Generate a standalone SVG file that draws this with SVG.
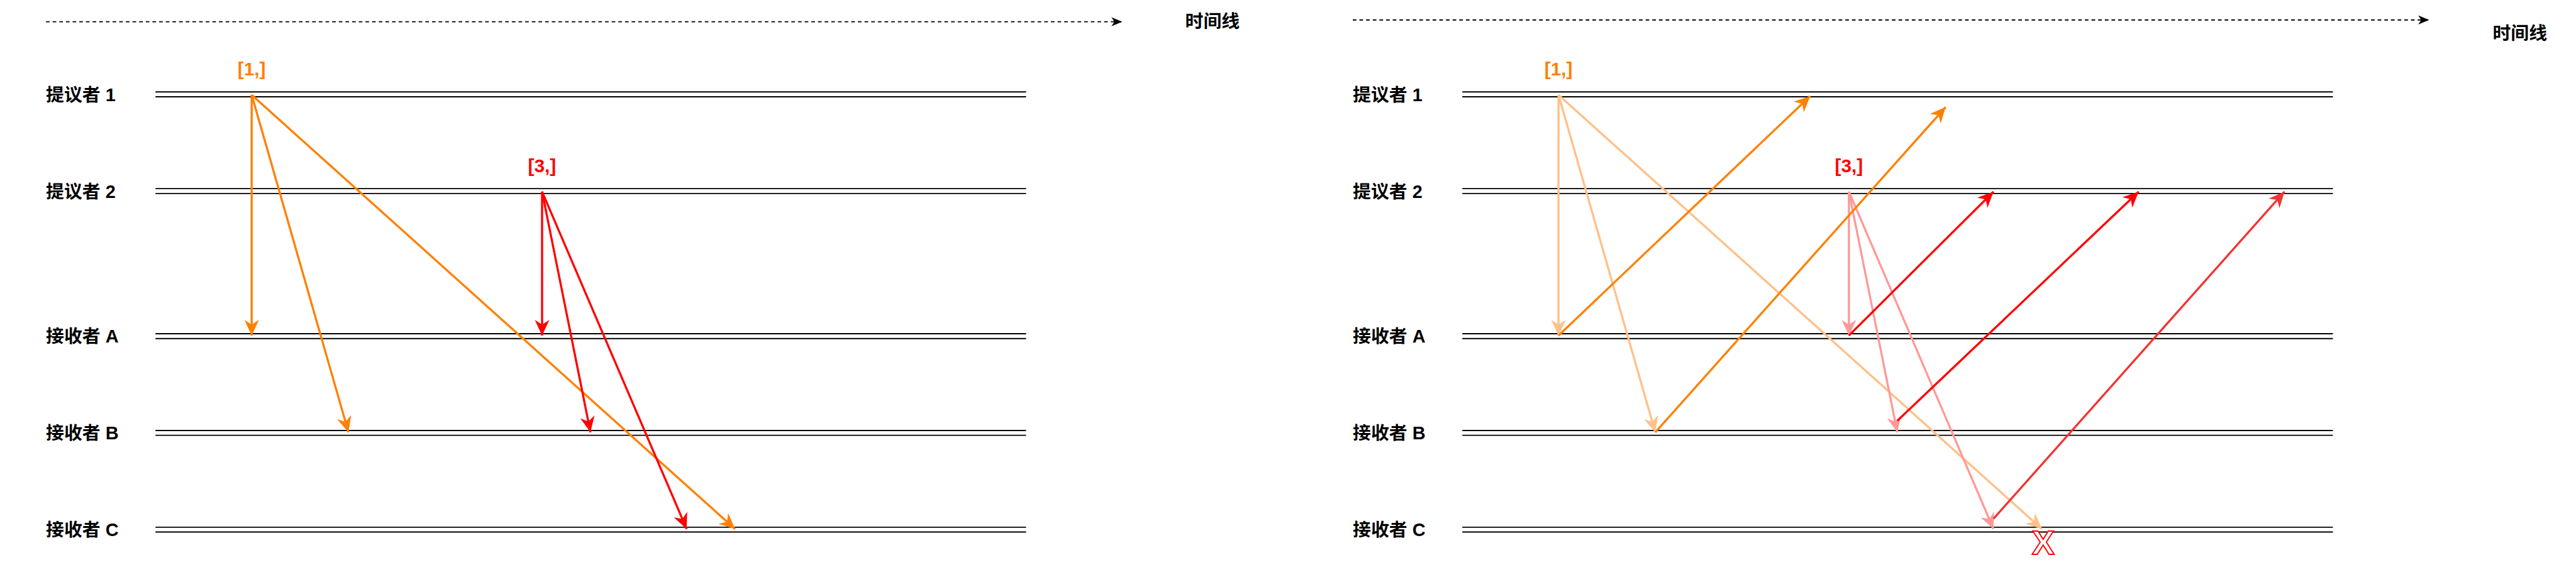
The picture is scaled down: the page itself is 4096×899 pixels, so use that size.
<svg xmlns="http://www.w3.org/2000/svg" width="4096" height="899" viewBox="0 0 4096 899">
<style>
.lane{stroke:#000;stroke-width:2;fill:none}
.lbl{font-family:"Liberation Sans","Noto Sans CJK SC",sans-serif;font-weight:bold;font-size:30px;fill:#000}
.tag{font-family:"Liberation Sans","Noto Sans CJK SC",sans-serif;font-weight:bold;font-size:31px;text-anchor:middle}
.tl{stroke:#000;stroke-width:2;stroke-dasharray:6 5;fill:none}
.o{stroke:#FF8000;stroke-width:3.5;fill:none;marker-end:url(#mo)}
.r{stroke:#FF0000;stroke-width:3.5;fill:none;marker-end:url(#mr)}
.lo{stroke:#FFC08A;stroke-width:3.5;fill:none;marker-end:url(#mlo)}
.lr{stroke:#FF9999;stroke-width:3.5;fill:none;marker-end:url(#mlr)}
.r2{stroke:#F33333;stroke-width:3.5;fill:none;marker-end:url(#mr2)}
</style>
<defs>
<marker id="mk" viewBox="-20 -9 22 18" refX="0" refY="0" markerWidth="22" markerHeight="18" markerUnits="userSpaceOnUse" orient="auto"><path d="M0,0 L-18,-7.5 L-13,0 L-18,7.5 Z" fill="#000"/></marker>
<marker id="mo" viewBox="-28 -14 30 28" refX="0" refY="0" markerWidth="30" markerHeight="28" markerUnits="userSpaceOnUse" orient="auto"><path d="M0,0 L-26,-12 L-18,0 L-26,12 Z" fill="#FF8000"/></marker>
<marker id="mr" viewBox="-28 -14 30 28" refX="0" refY="0" markerWidth="30" markerHeight="28" markerUnits="userSpaceOnUse" orient="auto"><path d="M0,0 L-26,-12 L-18,0 L-26,12 Z" fill="#FF0000"/></marker>
<marker id="mlo" viewBox="-28 -14 30 28" refX="0" refY="0" markerWidth="30" markerHeight="28" markerUnits="userSpaceOnUse" orient="auto"><path d="M0,0 L-26,-12 L-18,0 L-26,12 Z" fill="#FFC08A"/></marker>
<marker id="mlr" viewBox="-28 -14 30 28" refX="0" refY="0" markerWidth="30" markerHeight="28" markerUnits="userSpaceOnUse" orient="auto"><path d="M0,0 L-26,-12 L-18,0 L-26,12 Z" fill="#FF9999"/></marker>
<marker id="mr2" viewBox="-28 -14 30 28" refX="0" refY="0" markerWidth="30" markerHeight="28" markerUnits="userSpaceOnUse" orient="auto"><path d="M0,0 L-26,-12 L-18,0 L-26,12 Z" fill="#F33333"/></marker>
</defs>
<rect width="4096" height="899" fill="#fff"/>
<g transform="scale(0.962)">
<g id="timeline-left">
<line class="tl" x1="76" y1="36" x2="1855" y2="36" marker-end="url(#mk)"/>
<text class="lbl" x="1959" y="46">时间线</text>
</g>
<g id="lanes-left">
<g id="L-p1"><text class="lbl" x="76" y="167">提议者 1</text><path class="lane" d="M257,152 H1696 M257,160 H1696"/></g>
<g id="L-p2"><text class="lbl" x="76" y="327">提议者 2</text><path class="lane" d="M257,312 H1696 M257,320 H1696"/></g>
<g id="L-a"><text class="lbl" x="76" y="567">接收者 A</text><path class="lane" d="M257,552 H1696 M257,560 H1696"/></g>
<g id="L-b"><text class="lbl" x="76" y="727">接收者 B</text><path class="lane" d="M257,712 H1696 M257,720 H1696"/></g>
<g id="L-c"><text class="lbl" x="76" y="887">接收者 C</text><path class="lane" d="M257,872 H1696 M257,880 H1696"/></g>
</g>
<g id="tags-left">
<text class="tag" x="416" y="125" fill="#FF8000">[1,]</text>
<text class="tag" x="896" y="285" fill="#FF0000">[3,]</text>
</g>
<g id="connectors-left">
<line class="o" x1="416" y1="157" x2="416" y2="555"/>
<line class="o" x1="416" y1="157" x2="576" y2="715"/>
<line class="o" x1="416" y1="157" x2="1215" y2="875"/>
<line class="r" x1="896" y1="317" x2="896" y2="555"/>
<line class="r" x1="896" y1="317" x2="976" y2="715"/>
<line class="r" x1="896" y1="317" x2="1135" y2="875"/>
</g>
<g id="timeline-right">
<line class="tl" x1="2236" y1="33" x2="4015" y2="33" marker-end="url(#mk)"/>
<text class="lbl" x="4120" y="66">时间线</text>
</g>
<g id="lanes-right">
<g id="R-p1"><text class="lbl" x="2236" y="167">提议者 1</text><path class="lane" d="M2417,152 H3856 M2417,160 H3856"/></g>
<g id="R-p2"><text class="lbl" x="2236" y="327">提议者 2</text><path class="lane" d="M2417,312 H3856 M2417,320 H3856"/></g>
<g id="R-a"><text class="lbl" x="2236" y="567">接收者 A</text><path class="lane" d="M2417,552 H3856 M2417,560 H3856"/></g>
<g id="R-b"><text class="lbl" x="2236" y="727">接收者 B</text><path class="lane" d="M2417,712 H3856 M2417,720 H3856"/></g>
<g id="R-c"><text class="lbl" x="2236" y="887">接收者 C</text><path class="lane" d="M2417,872 H3856 M2417,880 H3856"/></g>
</g>
<g id="tags-right">
<text class="tag" x="2576" y="125" fill="#FF8000">[1,]</text>
<text class="tag" x="3056" y="285" fill="#FF0000">[3,]</text>
</g>
<g id="connectors-right">
<line class="lo" x1="2576" y1="157" x2="2576" y2="555"/>
<line class="lo" x1="2576" y1="157" x2="2736" y2="715"/>
<line class="lo" x1="2576" y1="157" x2="3375" y2="875"/>
<line class="lr" x1="3056" y1="317" x2="3056" y2="555"/>
<line class="lr" x1="3056" y1="317" x2="3136" y2="715"/>
<line class="lr" x1="3056" y1="317" x2="3295" y2="875"/>
<line class="o" x1="2576" y1="555" x2="2992" y2="159"/>
<line class="o" x1="2736" y1="715" x2="3216" y2="177"/>
<line class="r" x1="3056" y1="555" x2="3295" y2="317"/>
<line class="r" x1="3136" y1="696" x2="3535" y2="317"/>
<line class="r2" x1="3295" y1="858" x2="3776" y2="317"/>
</g>
<g id="lost-mark">
<text x="3377" y="917" text-anchor="middle" font-family="Liberation Sans, sans-serif" font-weight="bold" font-size="56" fill="#fff" stroke="#FF0000" stroke-width="2">X</text>
</g>
</g>
</svg>
